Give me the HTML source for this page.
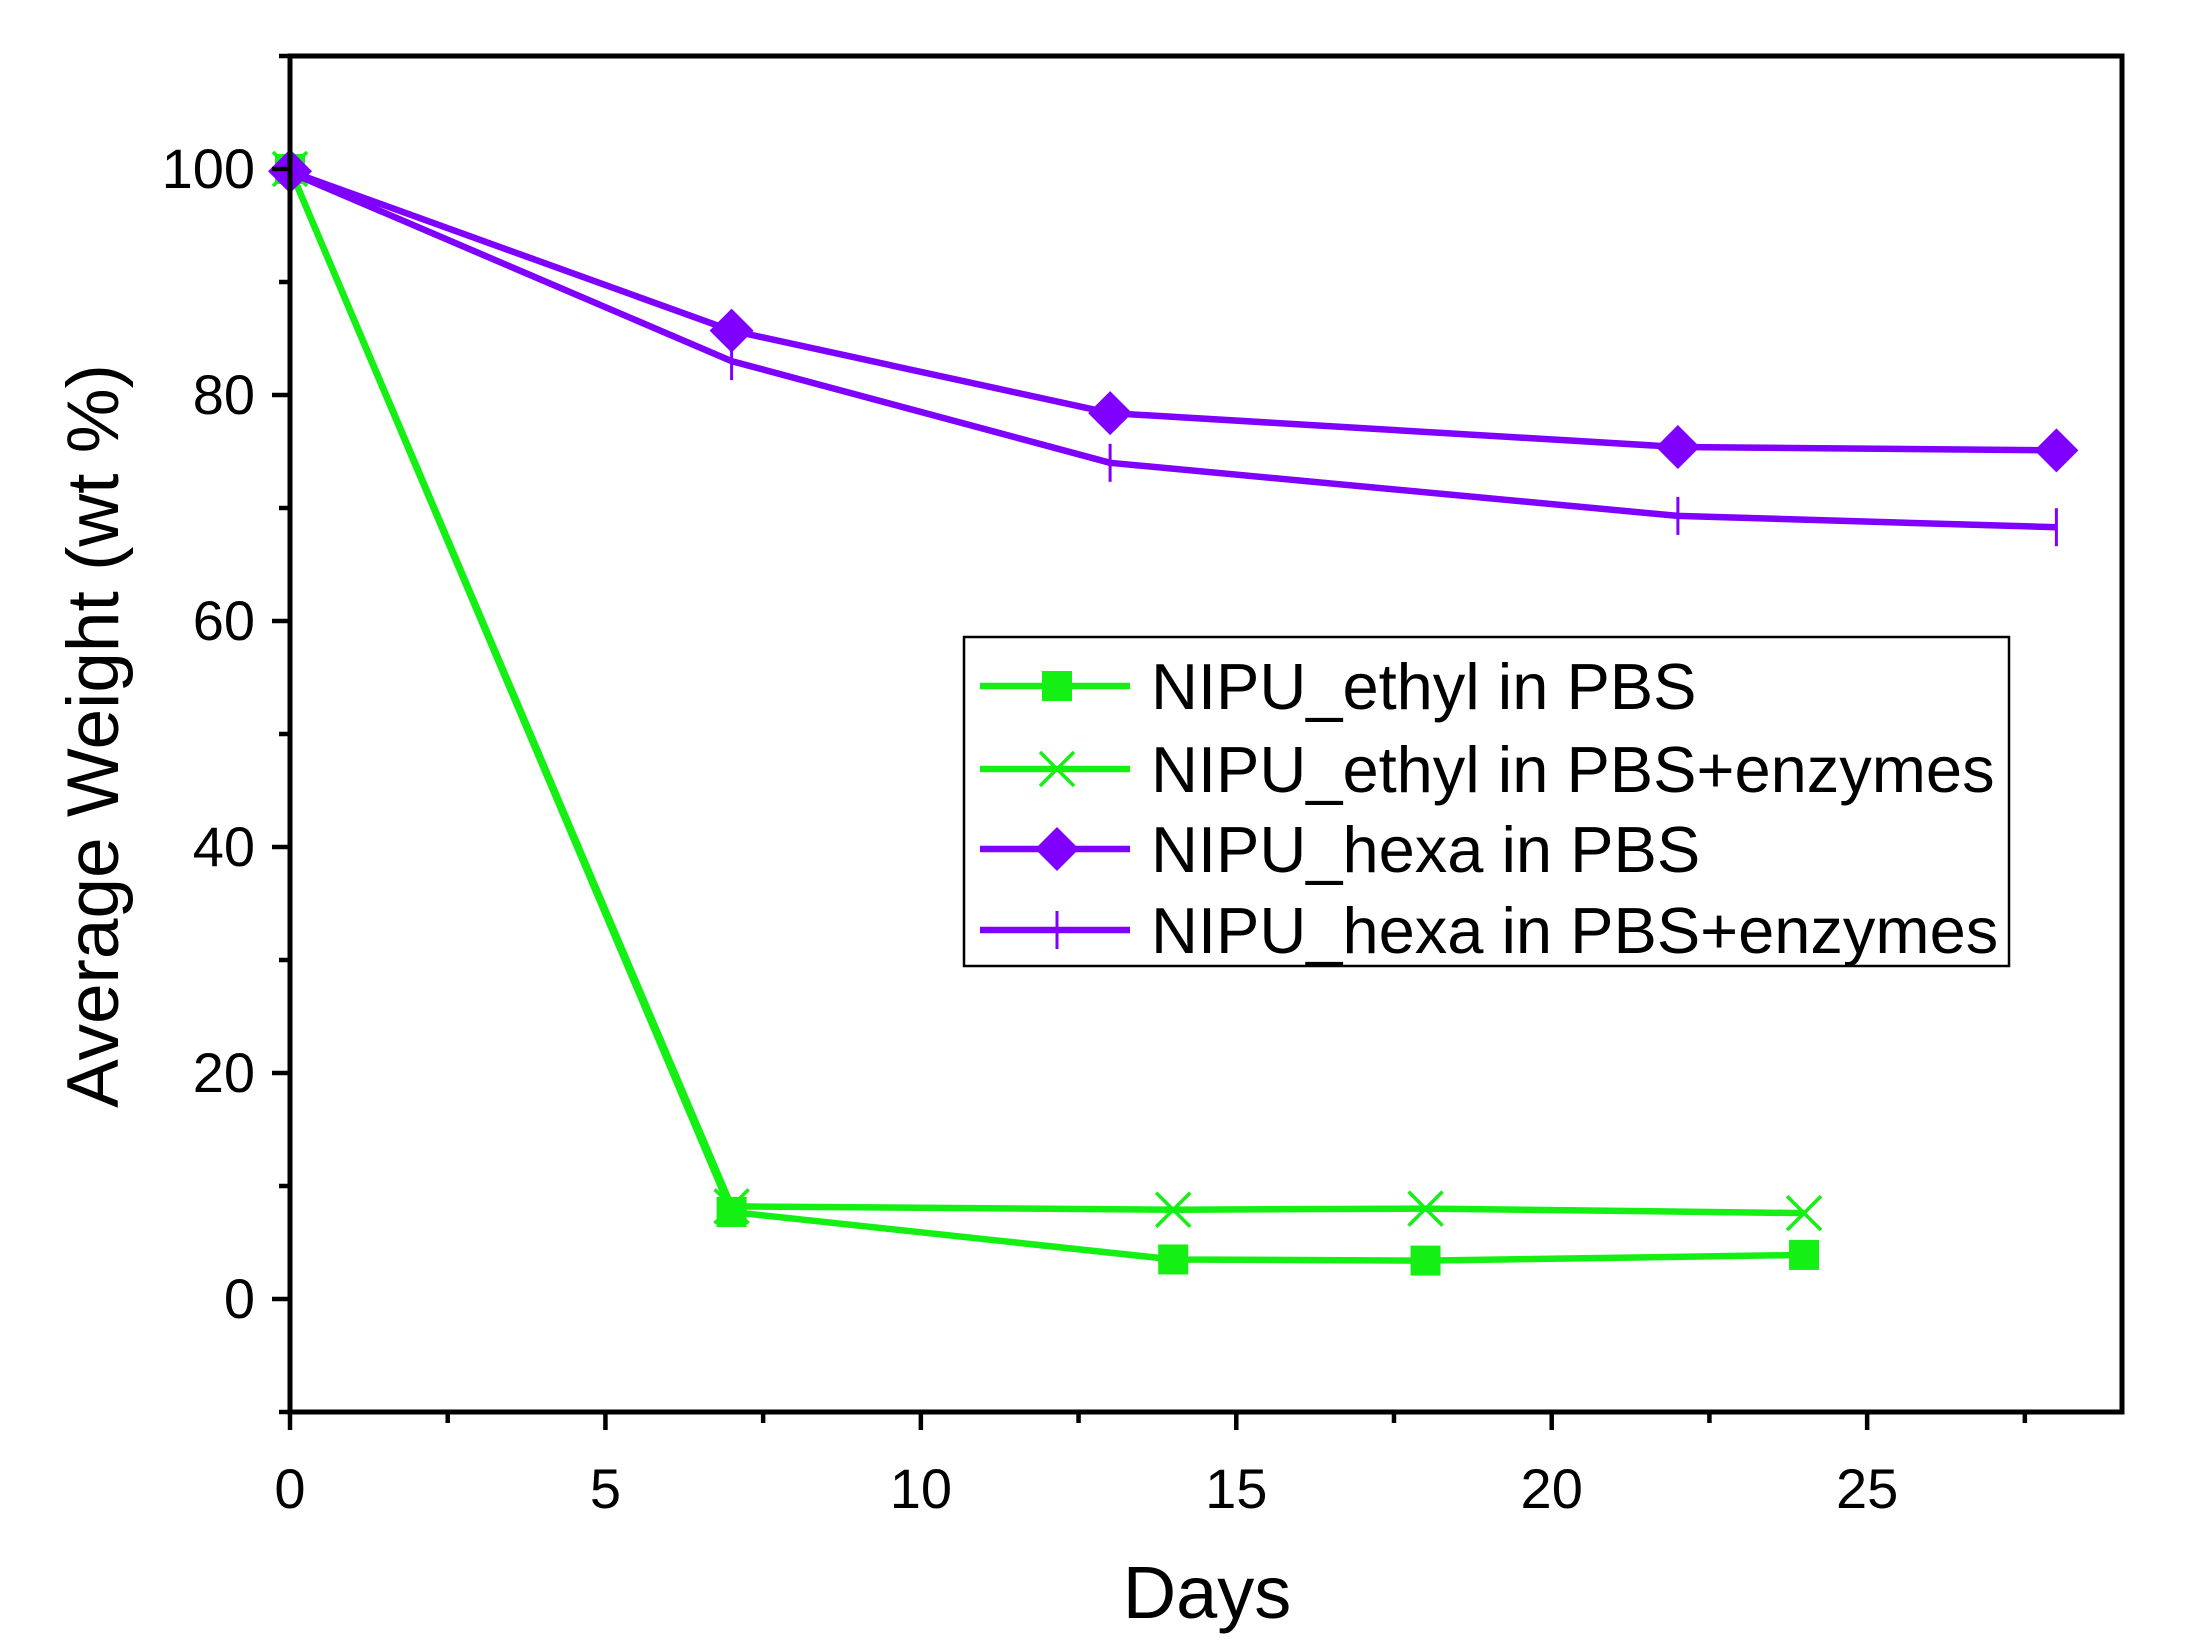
<!DOCTYPE html>
<html><head><meta charset="utf-8"><style>
body{margin:0;background:#fff;}
svg{display:block;font-family:"Liberation Sans",sans-serif;}
</style></head><body>
<svg id="chart" width="2195" height="1652" viewBox="0 0 2195 1652" xmlns="http://www.w3.org/2000/svg">
<rect width="2195" height="1652" fill="#fff"/>
<g id="marks"></g>
<g id="axes"></g>
<text x="1207" y="1618" font-size="74" text-anchor="middle">Days</text>
<text transform="translate(118,736) rotate(-90)" font-size="73" text-anchor="middle">Average Weight (wt %)</text>
<g id="legend"></g>
</svg>
<script>
const xTicks=[0,5,10,15,20,25];
const yTicks=[0,20,40,60,80,100];
const seriesNames=["NIPU_ethyl in PBS","NIPU_ethyl in PBS+enzymes","NIPU_hexa in PBS","NIPU_hexa in PBS+enzymes"];
const ethylPbsX=[0,7,14,18,24];
const ethylPbsY=[100,7.7,3.5,3.4,3.9];
const ethylEnzX=[0,7,14,18,24];
const ethylEnzY=[100,8.2,7.9,8.0,7.6];
const hexaPbsX=[0,7,13,22,28];
const hexaPbsY=[99.8,85.7,78.4,75.4,75.1];
const hexaEnzX=[0,7,13,22,28];
const hexaEnzY=[99.7,83,74,69.3,68.3];

const L=290,R=2122,T=56,B=1412,XMIN=0,XMAX=29.04,YMIN=-10,YMAX=110;
const sx=v=>L+(v-XMIN)/(XMAX-XMIN)*(R-L);
const sy=v=>B-(v-YMIN)/(YMAX-YMIN)*(B-T);
const NS="http://www.w3.org/2000/svg";
function mk(tag,attrs,parent){const e=document.createElementNS(NS,tag);for(const k in attrs)e.setAttribute(k,attrs[k]);parent.appendChild(e);return e;}
const GREEN="#14f014",PURPLE="#8000ff";
const marks=document.getElementById('marks');
const axes=document.getElementById('axes');

function marker(type,x,y,c,g){
  let e;
  if(type==='square'){e=mk('rect',{x:x-15,y:y-15,width:30,height:30,fill:c},g);}
  else if(type==='x'){e=mk('path',{d:`M${x-17} ${y-17}L${x+17} ${y+17}M${x-17} ${y+17}L${x+17} ${y-17}`,stroke:c,'stroke-width':3.5,fill:'none'},g);}
  else if(type==='diamond'){e=mk('path',{d:`M${x} ${y-22}L${x+22} ${y}L${x} ${y+22}L${x-22} ${y}Z`,fill:c},g);}
  else {e=mk('path',{d:`M${x} ${y-19}L${x} ${y+19}`,stroke:c,'stroke-width':3,fill:'none'},g);}
  return e;
}
const series=[[ethylPbsX,ethylPbsY,GREEN,'square'],[ethylEnzX,ethylEnzY,GREEN,'x'],[hexaPbsX,hexaPbsY,PURPLE,'diamond'],[hexaEnzX,hexaEnzY,PURPLE,'plus']];
const sNames=['ethyl-pbs','ethyl-enzymes','hexa-pbs','hexa-enzymes'];
series.forEach((s,i)=>{
  const g=mk('g',{},marks);
  
  
  const pl=mk('polyline',{points:s[0].map((x,j)=>sx(x)+','+sy(s[1][j])).join(' '),fill:'none',stroke:s[2],'stroke-width':6.5,'stroke-linejoin':'round'},g);
  
  
  s[0].forEach((x,j)=>{
    const m=marker(s[3],sx(x),sy(s[1][j]),s[2],g);
    
    
  });
});
const fr=mk('rect',{x:L,y:T,width:R-L,height:B-T,fill:'none',stroke:'#000','stroke-width':5},axes);


for(let v=0;v<=XMAX;v+=2.5){
  const major=Math.abs(v%5)<1e-9;
  mk('line',{x1:sx(v),x2:sx(v),y1:B,y2:B+(major?18:11),stroke:'#000','stroke-width':4.5},axes);
}
xTicks.forEach(v=>{
  const t=mk('text',{x:sx(v),y:1508,'font-size':56,'text-anchor':'middle'},axes);
  t.textContent=v;
  
  
});
for(let v=-10;v<=110;v+=10){
  const major=Math.abs(v%20)<1e-9;
  mk('line',{x1:L,x2:L-(major?18:11),y1:sy(v),y2:sy(v),stroke:'#000','stroke-width':4.5},axes);
}
yTicks.forEach(v=>{
  const t=mk('text',{x:255,y:sy(v)+19,'font-size':56,'text-anchor':'end'},axes);
  t.textContent=v;
  
  
});
const lg=document.getElementById('legend');
mk('rect',{x:964,y:637,width:1045,height:329,fill:'#fff',stroke:'#000','stroke-width':2.5},lg);
const rowY=[686,769,849,930];
series.forEach((s,i)=>{
  const y=rowY[i];
  const e=mk('g',{},lg);
  
  
  mk('line',{x1:980,x2:1130,y1:y,y2:y,stroke:s[2],'stroke-width':6.5},e);
  marker(s[3],1057,y,s[2],e);
  const t=mk('text',{x:1151,y:y+23,'font-size':65},e);
  t.textContent=seriesNames[i];
});
</script>
</body></html>
